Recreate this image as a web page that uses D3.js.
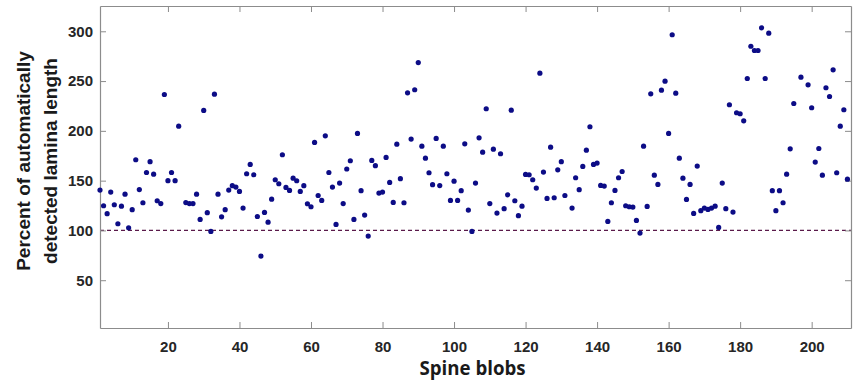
<!DOCTYPE html>
<html>
<head>
<meta charset="utf-8">
<script src="https://cdn.jsdelivr.net/npm/d3@7"></script>
<style>
  body { margin: 0; background: #ffffff; }
  svg { display: block; }
  .tick text { font-family: "Liberation Sans", Arial, sans-serif; font-weight: bold; font-size: 15px; fill: #262626; }
</style>
</head>
<body>
<svg id="chart" width="853" height="383"></svg>
<script>
// percent of automatically detected lamina length, one value per spine blob (null = not visible)
var percentValues = [
    140.5, 124.8, 116.8, 138.5, 125.8, 106.7, 124.4, 136.4, 102.7, 120.8,
    171, 141, 127.8, 158.2, 169, 156.5, 129.8, 127, 236.5, 150,
    158.2, 150, 204.7, null, 128, 127, 127, 136.4, 111, 220.5,
    117.8, 99, 236.8, 136.4, 113.7, 120.8, 140.5, 144.9, 143.5, 139.2,
    122.4, 156.9, 166.3, 155.9, 114, 74.2, 118.1, 108.3, 131.4, 150.9,
    146.9, 176, 143.2, 140.2, 152.5, 149.9, 139.2, 144.9, 126.8, 123.8,
    188.4, 135.1, 130.1, 195, 158.2, 143.5, 106, 147.6, 127, 161.7,
    170, 111, 197.4, 139.9, 115.4, 94.3, 170.3, 165, 137.5, 138.5,
    173.3, 148.2, 128.1, 186.6, 152, 127.8, 238.2, 191.7, 241.3, 268.6,
    184.6, 172.6, 157.9, 145.9, 192.4, 145, 184.6, 156.9, 130.1, 149.5,
    130.1, 139.9, 187, 120.4, 99, 147.6, 193, 178.6, 222.2, 127,
    181.6, 117.4, 177, 121.8, 135.8, 220.8, 129.8, 114.8, 124.4, 156.2,
    155.9, 150.9, 142.5, 257.9, 158.6, 132.1, 183.6, 132.8, 160.9, 169,
    135.1, null, 122.4, 152.9, 140.9, 164.3, 180.6, 204.1, 166.3, 167.6,
    145.2, 144.5, 109, 127.8, 140.2, 152.9, 159.2, 124.8, 123.8, 123.5,
    110, 97.3, 184.6, 124.1, 237.2, 155.5, 146.2, 240.9, 249.9, 197.4,
    296.5, 237.8, 172.6, 152.5, 131.1, 146.2, 117.1, 164.6, 119.8, 122.4,
    121.1, 122.4, 124.4, 103, 147.6, 121.8, 226.2, 118.4, 218.2, 217.2,
    210.1, 252.6, 285, 280.7, 280.7, 303.5, 252.6, 298.1, 139.9, 119.8,
    139.9, 127.8, 156.5, 182, 227.5, null, 253.9, null, 246.2, 223.2,
    168.6, 182.3, 155.5, 243.3, 234.5, 261.3, 157.9, 204.7, 221.2, 151.5
];
var xTicks = [20, 40, 60, 80, 100, 120, 140, 160, 180, 200];
var yTicks = [50, 100, 150, 200, 250, 300];
var referenceLevel = 100;
var xLabel = "Spine blobs";
var yLabelLines = ["Percent of automatically", "detected lamina length"];

var points = [];
for (var i = 0; i < percentValues.length; i++) {
    if (percentValues[i] != null) {
        points.push({ blob: i + 1, pct: percentValues[i] });
    }
}

var plotLeft = 100, plotRight = 851, plotTop = 6, plotBottom = 328;

let xScale = d3.scaleLinear().domain([1, 211]).range([plotLeft, plotRight]);
let yScale = d3.scaleLinear().domain([2, 325.4]).range([plotBottom, plotTop]);

const svg = d3.select('#chart');
const axisColor = "#8c8c8c";

// reference line at 100 %
svg.append("line")
    .attr("x1", plotLeft).attr("x2", plotRight)
    .attr("y1", yScale(referenceLevel)).attr("y2", yScale(referenceLevel))
    .attr("stroke", "#5a1a4a")
    .attr("stroke-width", 1.2)
    .attr("stroke-dasharray", "4,3");

// box with inward ticks on all four sides
function styleAxis(g) {
    g.selectAll("path").attr("stroke", axisColor).attr("stroke-width", 1.2);
    g.selectAll("line").attr("stroke", axisColor).attr("stroke-width", 1);
}

svg.append('g')
    .attr('transform', 'translate(' + plotLeft + ',0)')
    .call(d3.axisLeft(yScale).tickValues(yTicks).tickSize(-6).tickSizeOuter(0).tickPadding(7))
    .call(styleAxis);
svg.append('g')
    .attr('transform', 'translate(' + plotRight + ',0)')
    .call(d3.axisRight(yScale).tickValues(yTicks).tickSize(-6).tickSizeOuter(0).tickFormat(""))
    .call(styleAxis);
svg.append('g')
    .attr('transform', 'translate(0,' + plotBottom + ')')
    .call(d3.axisBottom(xScale).tickValues(xTicks).tickSize(-6).tickSizeOuter(0).tickPadding(13))
    .call(styleAxis);
svg.append('g')
    .attr('transform', 'translate(0,' + plotTop + ')')
    .call(d3.axisTop(xScale).tickValues(xTicks).tickSize(-6).tickSizeOuter(0).tickFormat(""))
    .call(styleAxis);

// dots
svg.append('g').selectAll('circle')
    .data(points)
    .enter()
    .append('circle')
    .attr('cx', function (d) { return xScale(d.blob); })
    .attr('cy', function (d) { return yScale(d.pct); })
    .attr('r', 2.6)
    .attr('fill', '#0c0c86');

// axis titles
svg.append('text')
    .attr('x', (plotLeft + plotRight) / 2 - 3)
    .attr('y', 375)
    .attr('text-anchor', 'middle')
    .attr('font-family', '"Open Sans", sans-serif')
    .attr('font-weight', 'bold')
    .attr('font-size', 18.7)
    .attr('fill', '#1a1a1a')
    .text(xLabel);

svg.append('text')
    .attr('transform', 'translate(30,161) rotate(-90)')
    .attr('text-anchor', 'middle')
    .attr('font-family', '"Liberation Sans", Arial, sans-serif')
    .attr('font-weight', 'bold')
    .attr('font-size', 19)
    .attr('fill', '#1a1a1a')
    .selectAll('tspan')
    .data(yLabelLines)
    .enter()
    .append('tspan')
    .attr('x', 0)
    .attr('dy', function (d, i) { return i == 0 ? 0 : 27; })
    .text(function (d) { return d; });
</script>
</body>
</html>
